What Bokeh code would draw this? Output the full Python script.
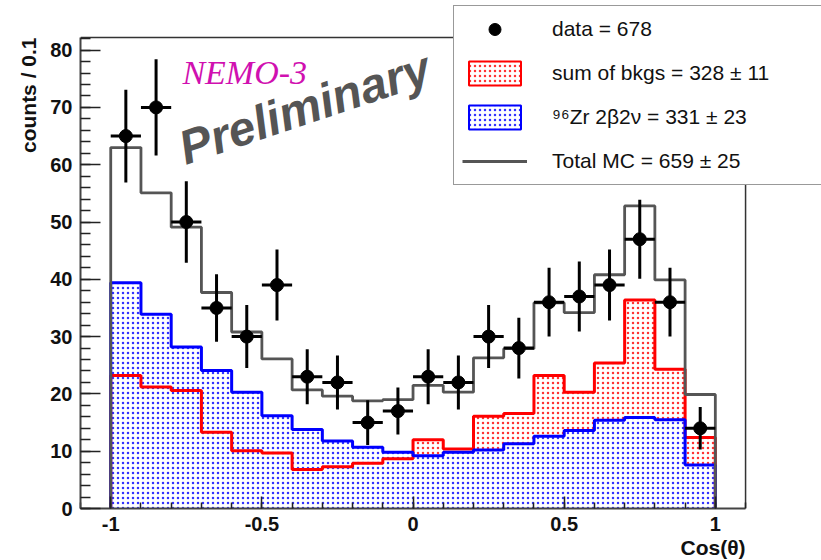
from bokeh.plotting import figure
from bokeh.models import (Range1d, SingleIntervalTicker, CustomJSTickFormatter, Label,
                          Legend, LegendItem, ColumnDataSource, Title)
from bokeh.embed import file_html
from bokeh.resources import INLINE

# ---------------- data ----------------
bin_centers = [-0.95, -0.85, -0.75, -0.65, -0.55, -0.45, -0.35, -0.25, -0.15, -0.05,
               0.05, 0.15, 0.25, 0.35, 0.45, 0.55, 0.65, 0.75, 0.85, 0.95]
bin_width = 0.1
data_counts = [65, 70, 50, 35, 30, 39, 23, 22, 15, 17,
               23, 22, 30, 28, 36, 37, 39, 47, 36, 14]
data_errors = [8.1, 8.4, 7.1, 5.9, 5.5, 6.2, 4.8, 4.7, 3.9, 4.1,
               4.8, 4.7, 5.5, 5.3, 6.0, 6.1, 6.2, 6.9, 6.0, 3.7]
bkg_sum = [23.2, 21.2, 20.6, 13.3, 10.1, 9.7, 6.8, 7.3, 7.9, 8.7,
           12.0, 10.4, 16.1, 16.6, 23.2, 20.3, 25.4, 36.4, 24.3, 12.4]
zr_2b2n = [39.4, 33.9, 28.2, 24.1, 20.3, 16.2, 13.8, 11.8, 10.7, 9.8,
           9.2, 9.8, 10.2, 11.3, 12.6, 13.6, 15.4, 15.9, 15.5, 7.6]
total_mc = [63.0, 55.1, 49.1, 37.7, 30.8, 26.1, 20.7, 19.6, 18.8, 19.0,
            21.5, 20.3, 26.3, 27.9, 35.9, 34.2, 40.8, 52.8, 39.9, 19.9]
legend_labels = ["data = 678", "sum of bkgs = 328 \u00b1 11",
                 "\u2079\u2076Zr 2\u03b22\u03bd = 331 \u00b1 23", "Total MC = 659 \u00b1 25"]
x_title = "Cos(\u03b8)"
y_title = "counts / 0.1"

# axis extents of the drawn frame box
x_lo, x_hi = -1.1, 1.1
y_lo, y_hi = 0.0, 82.2

# ---------------- helpers ----------------
lefts = [c - bin_width / 2 for c in bin_centers]
rights = [c + bin_width / 2 for c in bin_centers]
edges = lefts + [rights[-1]]


def outline(vals):
    xs, ys = [edges[0]], [0.0]
    for l, r, v in zip(lefts, rights, vals):
        xs += [l, r]
        ys += [v, v]
    xs.append(edges[-1])
    ys.append(0.0)
    return xs, ys


FONT = "Liberation Sans"

# The plotting area spans the canvas up to the top and right edges so that the
# legend can overhang the axes box, as in the reference; axes are bounded.
p = figure(width=821, height=560, output_backend="svg", toolbar_location=None,
           x_range=Range1d(-1.1, 1.3512), y_range=Range1d(0, 88.66))
p.min_border_left = 80
p.min_border_right = 0
p.min_border_top = 0
p.min_border_bottom = 52
p.grid.visible = False
p.background_fill_color = "white"
p.border_fill_color = "white"
p.outline_line_color = None

# axes
p.xaxis.ticker = SingleIntervalTicker(interval=0.5, num_minor_ticks=5)
p.xaxis.formatter = CustomJSTickFormatter(code="return (Math.round(tick*10)/10).toString();")
p.yaxis.ticker = SingleIntervalTicker(interval=10, num_minor_ticks=5)
p.xaxis.bounds = (x_lo, x_hi)
p.yaxis.bounds = (y_lo, y_hi)
for ax in (p.xaxis[0], p.yaxis[0]):
    ax.axis_line_color = "#444444"
    ax.axis_line_width = 2
    ax.major_tick_line_color = "#222222"
    ax.minor_tick_line_color = "#222222"
    ax.major_tick_line_width = 1.5
    ax.minor_tick_line_width = 1.5
    ax.major_tick_out = 0
    ax.minor_tick_out = 0
    ax.major_label_text_font = FONT
    ax.major_label_text_font_style = "bold"
    ax.major_label_text_font_size = "20px"
    ax.major_label_text_color = "#111111"
    ax.major_label_standoff = 8
p.xaxis.major_tick_in = 12
p.xaxis.minor_tick_in = 6
p.yaxis.major_tick_in = 20
p.yaxis.minor_tick_in = 10

# axis titles aligned to the far end of each axis
p.add_layout(Title(text=y_title, align="right", text_font=FONT, text_font_style="bold",
                   text_font_size="21px", text_color="#111111", standoff=15, offset=37), "left")
p.add_layout(Title(text=x_title, align="right", text_font=FONT, text_font_style="bold",
                   text_font_size="21px", text_color="#111111", standoff=0, offset=76), "below")

# top and right sides of the axes box
p.segment(x0=[x_lo, x_hi], y0=[y_hi, y_lo], x1=[x_hi, x_hi], y1=[y_hi, y_hi],
          line_color="#333333", line_width=1.5)

# fills: red (bkgs) first, then blue (Zr) on top
hatch_kw = dict(hatch_pattern="dot", hatch_scale=5, hatch_weight=1.5, hatch_alpha=0.8)
p.varea_step(x=edges, y1=[0] * len(edges), y2=bkg_sum + [bkg_sum[-1]], step_mode="after",
             fill_color="white", hatch_color="#ff0000", **hatch_kw)
p.varea_step(x=edges, y1=[0] * len(edges), y2=zr_2b2n + [zr_2b2n[-1]], step_mode="after",
             fill_color="white", hatch_color="#0000ff", **hatch_kw)

# outlines
rx, ry = outline(bkg_sum)
p.line(rx, ry, line_color="#ff0000", line_width=3)
bx, by = outline(zr_2b2n)
p.line(bx, by, line_color="#0000ff", line_width=3)
tx, ty = outline(total_mc)
tot_line = p.line(tx, ty, line_color="#555555", line_width=2.8)

# data points with errors
src = ColumnDataSource(dict(
    x=bin_centers, y=data_counts,
    ylo=[v - e for v, e in zip(data_counts, data_errors)],
    yhi=[v + e for v, e in zip(data_counts, data_errors)],
    xlo=lefts, xhi=rights))
p.segment(x0="x", y0="ylo", x1="x", y1="yhi", source=src, line_color="black", line_width=3)
p.segment(x0="xlo", y0="y", x1="xhi", y1="y", source=src, line_color="black", line_width=3)
pts = p.scatter("x", "y", source=src, size=13, color="black")

# texts
p.add_layout(Label(x=-0.763, y=76.1, text="NEMO-3", text_font="Liberation Serif",
                   text_font_style="italic", text_font_size="34px", text_color="#d010b0",
                   text_baseline="alphabetic"))
p.add_layout(Label(x=-0.769, y=62.7, text="Preliminary", text_font=FONT,
                   text_font_style="bold italic", text_font_size="48px", text_color="#555555",
                   angle=18.5, angle_units="deg", text_baseline="alphabetic"))

# legend swatches: styling-only quads (one undefined row, nothing drawn in the plot)
nan = float("nan")
swatch = dict(left=[nan], right=[nan], top=[nan], bottom=[nan])
leg_red = p.quad(source=ColumnDataSource(swatch), left="left", right="right", top="top",
                 bottom="bottom", fill_color="white", line_color="#ff0000", line_width=2,
                 hatch_color="#ff0000", **hatch_kw)
leg_blue = p.quad(source=ColumnDataSource(dict(swatch)), left="left", right="right", top="top",
                  bottom="bottom", fill_color="white", line_color="#0000ff", line_width=2,
                  hatch_color="#0000ff", **hatch_kw)
legend = Legend(items=[LegendItem(label=legend_labels[0], renderers=[pts]),
                       LegendItem(label=legend_labels[1], renderers=[leg_red]),
                       LegendItem(label=legend_labels[2], renderers=[leg_blue]),
                       LegendItem(label=legend_labels[3], renderers=[tot_line])],
                location=(373, 323), glyph_width=65, glyph_height=30, label_height=28,
                spacing=14, padding=8, margin=0, label_standoff=25, label_width=261,
                label_text_font=FONT, label_text_font_size="21px", label_text_color="#111111",
                border_line_color="#333333", border_line_width=1.5,
                background_fill_color="white", background_fill_alpha=1.0)
p.add_layout(legend)

open("out.html", "w").write(file_html(p, INLINE))
